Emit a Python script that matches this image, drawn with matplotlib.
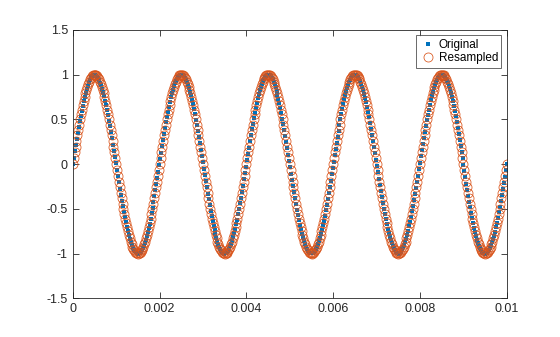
import numpy as np
import matplotlib
matplotlib.use("Agg")
import matplotlib.pyplot as plt

plt.rcParams["font.family"] = ["Liberation Sans", "DejaVu Sans"]

# Signal settings: 500 Hz sine, 10 ms long
signal_freq = 500          # Hz (5 periods in 0.01 s)
amplitude = 1.0
duration = 0.01            # s
rate_original = 44100      # Hz
rate_resampled = 48000     # Hz

x_ticks = [0, 0.002, 0.004, 0.006, 0.008, 0.01]
x_labels = ["0", "0.002", "0.004", "0.006", "0.008", "0.01"]
y_ticks = [-1.5, -1, -0.5, 0, 0.5, 1, 1.5]
y_labels = ["-1.5", "-1", "-0.5", "0", "0.5", "1", "1.5"]

t_orig = np.arange(0, round(duration * rate_original) + 1) / rate_original
x_orig = amplitude * np.sin(2 * np.pi * signal_freq * t_orig)
t_res = np.arange(0, round(duration * rate_resampled) + 1) / rate_resampled
x_res = amplitude * np.sin(2 * np.pi * signal_freq * t_res)

fig = plt.figure(figsize=(5.6, 3.37), dpi=100)
ax = fig.add_axes([0.13, 0.115, 0.775, 0.796])

ax.plot(t_orig, x_orig, linestyle="none", marker="s", markersize=2.6,
        markeredgewidth=0, color="#0072BD", label="Original")
ax.plot(t_res, x_res, linestyle="none", marker="o", markersize=6.5,
        markerfacecolor="none", markeredgewidth=0.55, color="#D95319",
        label="Resampled")

ax.set_xlim(0, 0.01)
ax.set_ylim(-1.5, 1.5)
ax.set_xticks(x_ticks, x_labels)
ax.set_yticks(y_ticks, y_labels)
ax.tick_params(direction="in", length=4, width=0.6, labelsize=9,
               colors="#262626", top=True, right=True, labeltop=False,
               labelright=False)
for s in ax.spines.values():
    s.set_linewidth(0.6)
    s.set_color("#262626")

leg = ax.legend(loc="upper right", fontsize=8.5, frameon=True, fancybox=False,
                edgecolor="#262626", borderpad=0.3, handlelength=1.4,
                handletextpad=0.2, labelspacing=0.1, borderaxespad=0.45)
leg.get_frame().set_linewidth(0.6)

fig.savefig("out.png", dpi=100)
